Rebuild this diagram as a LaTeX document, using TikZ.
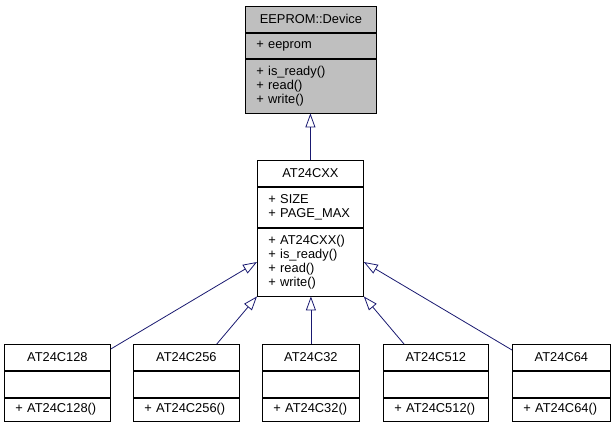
\documentclass[tikz,border=0pt]{standalone}
\usepackage{fontspec}
\setmainfont{Liberation Sans}
\usetikzlibrary{arrows.meta,calc}
\definecolor{edge}{HTML}{191970}
\definecolor{basefill}{HTML}{BFBFBF}
\tikzset{
  every node/.style={font=\fontsize{12.9}{14}\selectfont, text=black},
  part/.style={draw=black, line width=0.8bp, inner xsep=11bp, inner ysep=0pt, align=left},
  base/.style={part, fill=basefill},
  derived/.style={part, fill=white},
  inherit/.style={-{Triangle[open, length=14bp, width=10bp]}, draw=edge, line width=0.8bp},
}
\newcommand{\classbox}[9]{% #1 name, #2 style, #3 top left, #4 width, #5 attr height, #6 method height, #7 title, #8 attrs, #9 methods
  \pgfmathsetmacro{\tw}{#4-22}
  \node[#2, align=center, minimum width=#4bp, minimum height=26bp, anchor=north west] (#1) at (#3) {#7};
  \node[#2, text width=\tw bp, minimum height=#5bp, anchor=north] (#1a) at (#1.south) {#8};
  \node[#2, text width=\tw bp, minimum height=#6bp, anchor=north] (#1m) at (#1a.south) {#9};
}

\begin{document}
\begin{tikzpicture}[x=1bp, y=-1bp]
  \useasboundingbox (0,0) rectangle (615,427);

  \classbox{dev}{base}{245,6}{131}{25}{54}{EEPROM::Device}{+ eeprom}{+ is\_ready()\\+ read()\\+ write()}
  \classbox{xx}{derived}{257,160}{106}{40}{68}{AT24CXX}{+ SIZE\\+ PAGE\_MAX}{+ AT24CXX()\\+ is\_ready()\\+ read()\\+ write()}

  % leaf classes
  \classbox{c128}{derived}{4,344}{106}{26}{23}{AT24C128}{}{+ AT24C128()}
  \classbox{c256}{derived}{133,344}{106}{26}{23}{AT24C256}{}{+ AT24C256()}
  \classbox{c32}{derived}{262,344}{97}{26}{23}{AT24C32}{}{+ AT24C32()}
  \classbox{c512}{derived}{383,344}{105}{26}{23}{AT24C512}{}{+ AT24C512()}
  \classbox{c64}{derived}{512,344}{98}{26}{23}{AT24C64}{}{+ AT24C64()}

  \draw[inherit] (xx.north) -- (xx.north |- devm.south);
  \draw[inherit] ([yshift=-5bp]c128.north east) -- (xxm.west);
  \draw[inherit] ([xshift=-23bp]c256.north east) -- (xxm.south west);
  \draw[inherit] (c32.north) -- (c32.north |- xxm.south);
  \draw[inherit] ([xshift=21bp]c512.north west) -- (xxm.south east);
  \draw[inherit] ([yshift=-6bp]c64.north west) -- (xxm.east);
\end{tikzpicture}
\end{document}
